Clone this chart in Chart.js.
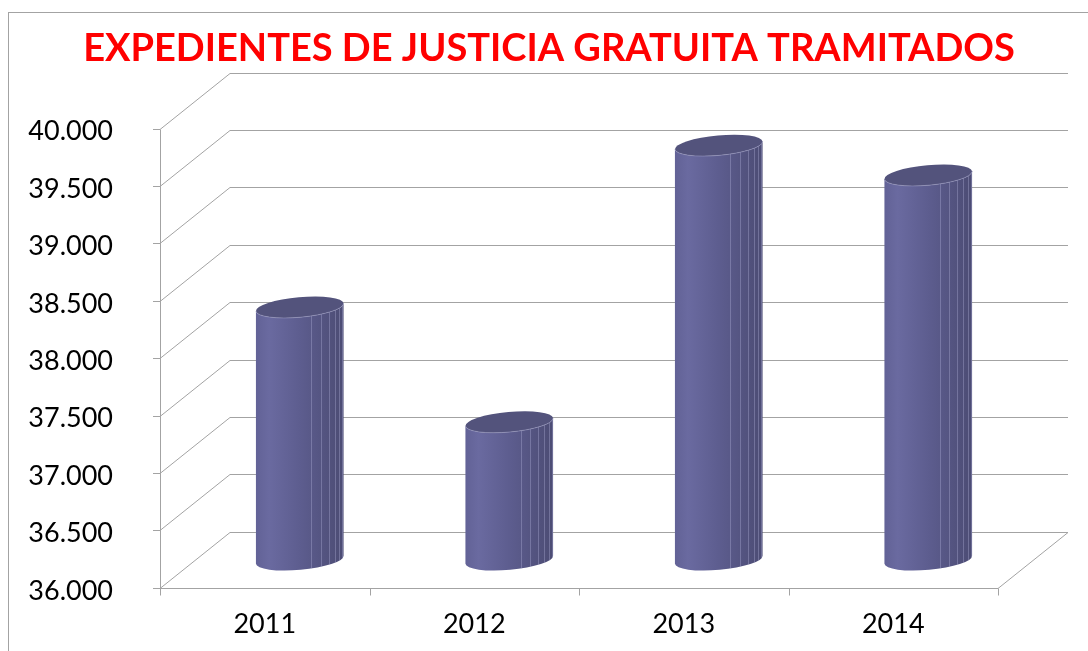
<!DOCTYPE html>
<html>
<head>
<meta charset="utf-8">
<script src="https://cdn.jsdelivr.net/npm/chart.js@4/dist/chart.umd.min.js"></script>
<style>
  html, body { margin: 0; padding: 0; background: #fff; }
  #wrap { width: 1088px; height: 651px; }
</style>
</head>
<body>
<div id="wrap"><canvas id="chart" width="1088" height="651"></canvas></div>
<script>
// datos
const years = ["2011", "2012", "2013", "2014"];
const expedientes = [38200, 37200, 39610, 39350];
const yTicks = [36000, 36500, 37000, 37500, 38000, 38500, 39000, 39500, 40000];

// profundidad del efecto 3D (pared del fondo)
const DX = 70;
const DY = -56;
const GRID = "#a3a3a3";

const fmt = (v) => v.toLocaleString("de-DE");

// paredes, rejilla y ejes
const frame3d = {
  id: "frame3d",
  beforeDatasetsDraw(chart) {
    const { ctx, chartArea: a, scales } = chart;
    const y = scales.y;
    ctx.save();
    ctx.lineWidth = 1;
    ctx.strokeStyle = GRID;

    // marco del gráfico
    ctx.strokeRect(8.5, 12.5, 1200, 800);

    yTicks.forEach((v) => {
      const py = Math.round(y.getPixelForValue(v)) + 0.5;
      ctx.beginPath();
      ctx.moveTo(a.left, py);
      ctx.lineTo(a.left + DX, py + DY);
      ctx.lineTo(a.right + DX, py + DY);
      ctx.stroke();
      // marcas del eje
      ctx.beginPath();
      ctx.moveTo(a.left - 7, py);
      ctx.lineTo(a.left, py);
      ctx.stroke();
    });

    const base = Math.round(y.getPixelForValue(yTicks[0])) + 0.5;
    const top = Math.round(y.getPixelForValue(yTicks[yTicks.length - 1])) + 0.5;
    // eje vertical
    ctx.beginPath();
    ctx.moveTo(a.left + 0.5, top);
    ctx.lineTo(a.left + 0.5, base);
    ctx.stroke();
    // suelo
    ctx.beginPath();
    ctx.moveTo(a.left, base);
    ctx.lineTo(a.right, base);
    ctx.lineTo(a.right + DX, base + DY);
    ctx.stroke();
    // marcas de categoría
    const n = years.length;
    const step = (a.right - a.left) / n;
    for (let i = 0; i <= n; i++) {
      const px = Math.round(a.left + i * step) + 0.5;
      ctx.beginPath();
      ctx.moveTo(px, base);
      ctx.lineTo(px, base + 7);
      ctx.stroke();
    }
    ctx.restore();
  },

  // cilindros
  afterDatasetsDraw(chart) {
    const { ctx } = chart;
    const y = chart.scales.y;
    const meta = chart.getDatasetMeta(0);
    const rot = -0.09;
    const floor = y.getPixelForValue(y.min);
    meta.data.forEach((el) => {
      const cx = el.x + DX / 2;
      const w = el.width;
      const rx = w / 2;
      const ry = 10;
      const topY = el.y + DY / 2;
      const baseY = floor + DY / 2;
      const ex = rx * Math.cos(rot);
      const ey = rx * Math.sin(rot);

      ctx.save();
      const g = ctx.createLinearGradient(cx - rx, 0, cx + rx, 0);
      g.addColorStop(0, "#626296");
      g.addColorStop(0.15, "#6a6aa0");
      g.addColorStop(0.5, "#5d5d8f");
      g.addColorStop(1, "#4c4c74");

      ctx.beginPath();
      ctx.ellipse(cx, baseY, rx, ry, rot, 0, Math.PI);
      ctx.lineTo(cx - ex, topY - ey);
      ctx.ellipse(cx, topY, rx, ry, rot, Math.PI, 0, true);
      ctx.closePath();
      ctx.fillStyle = g;
      ctx.fill();

      // facetas
      ctx.save();
      ctx.clip();
      ctx.strokeStyle = "rgba(180,180,220,0.35)";
      ctx.lineWidth = 1;
      [0.63, 0.74, 0.83, 0.9, 0.95, 0.985].forEach((f) => {
        const px = Math.round(cx - rx + f * w) + 0.5;
        ctx.beginPath();
        ctx.moveTo(px, topY - 20);
        ctx.lineTo(px, baseY + 20);
        ctx.stroke();
      });
      ctx.restore();

      // tapa
      ctx.beginPath();
      ctx.ellipse(cx, topY, rx, ry, rot, 0, Math.PI * 2);
      ctx.fillStyle = "#53537c";
      ctx.fill();
      ctx.strokeStyle = "rgba(160,160,200,0.5)";
      ctx.beginPath();
      ctx.ellipse(cx, topY, rx, ry, rot, Math.PI, 0, true);
      ctx.stroke();
      ctx.restore();
    });
  },
};

const labelFont = { family: "Lato, 'Open Sans', sans-serif", size: 27 };

new Chart(document.getElementById("chart"), {
  type: "bar",
  data: {
    labels: years,
    datasets: [
      {
        data: expedientes,
        backgroundColor: "rgba(0,0,0,0)",
        borderWidth: 0,
        categoryPercentage: 1,
        barPercentage: 0.42,
      },
    ],
  },
  options: {
    responsive: false,
    animation: false,
    layout: { padding: { left: 10, right: 0, top: 0, bottom: 0 } },
    plugins: {
      legend: { display: false },
      tooltip: { enabled: false },
      title: {
        display: true,
        text: "EXPEDIENTES DE JUSTICIA GRATUITA TRAMITADOS",
        color: "#ff0000",
        font: { family: "Lato, 'Open Sans', sans-serif", size: 38, weight: "bold", lineHeight: 1.2 },
        padding: { top: 26, bottom: 57 },
      },
    },
    scales: {
      x: {
        grid: { display: false, drawTicks: false },
        border: { display: false },
        ticks: { color: "#000", font: labelFont, padding: 20 },
        afterFit: (s) => { s.height = 62; },
      },
      y: {
        min: 36000,
        max: 40000,
        grid: { display: false, drawTicks: false },
        border: { display: false },
        ticks: {
          stepSize: 500,
          color: "#000",
          font: labelFont,
          padding: 47,
          labelOffset: 3,
          callback: (v) => fmt(v),
        },
        afterFit: (s) => { s.width = 150; },
      },
      side: {
        position: "right",
        display: true,
        grid: { display: false, drawTicks: false },
        border: { display: false },
        ticks: { display: false },
        afterFit: (s) => { s.width = 90; },
      },
    },
  },
  plugins: [frame3d],
});
</script>
</body>
</html>
